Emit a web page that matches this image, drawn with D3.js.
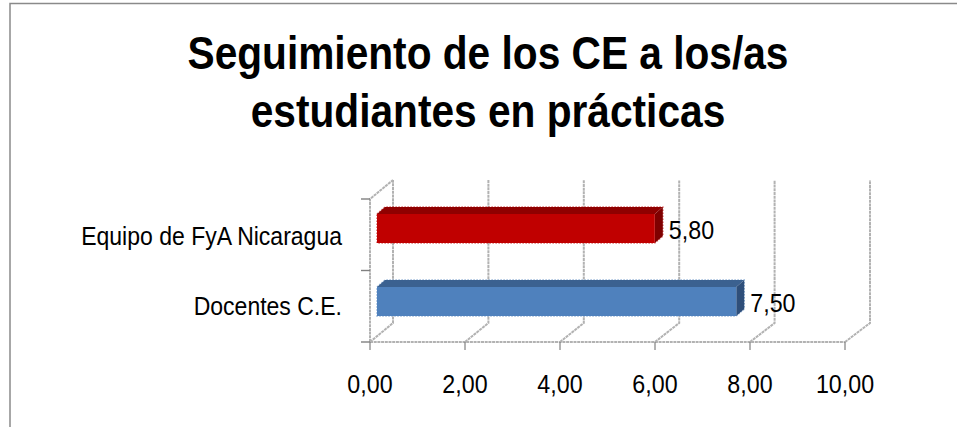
<!DOCTYPE html>
<html>
<head>
<meta charset="utf-8">
<script src="https://cdn.jsdelivr.net/npm/d3@7"></script>
<style>
html, body { margin: 0; padding: 0; background: #fff; overflow: hidden; }
text { font-family: "Liberation Sans", sans-serif; fill: #000; }
</style>
</head>
<body>
<script>
const categories = ["Equipo de FyA Nicaragua", "Docentes C.E."];
const values = [5.8, 7.5];
const barColors = ["#c00000", "#4f81bd"];
const barTopColors = ["#8f0000", "#3b6190"];
const barSideColors = ["#7f0000", "#2f4f7a"];
const xTicks = [0, 2, 4, 6, 8, 10];
const titleLines = ["Seguimiento de los CE a los/as", "estudiantes en prácticas"];

const svg = d3.select("body").append("svg").attr("width", 957).attr("height", 427);

// chart frame, only top and left edge show in the picture
svg.append("path")
    .attr("d", "M10,427V3.5H957")
    .attr("fill", "none")
    .attr("stroke", "#8a8a8a")
    .attr("stroke-width", 1.5);

const x = d3.scaleLinear().domain([0, 10]).range([370, 845]);
const xBack = d3.scaleLinear().domain([0, 10]).range([393, 870]);
const xBar = d3.scaleLinear().domain([0, 10]).range([377, 856]);
const y = d3.scaleBand().domain(categories).range([199, 342]);
const yBar = d3.scalePoint().domain(categories).range([214, 287]);
const floorY = 342;
const backFloorY = 323;
const wallTop = 180;
const grid = "#b2b2b2";
const gridDash = "3 0.7";
const fmt = v => d3.format(".2f")(v).replace(".", ",");

// squeeze text horizontally, the original font is narrower than Liberation Sans
let condense = (sel, factor) => {
    sel.each(function () {
        d3.select(this)
            .attr("textLength", this.getComputedTextLength() * factor)
            .attr("lengthAdjust", "spacingAndGlyphs");
    });
}

// back wall lines and floor diagonals
xTicks.forEach(t => {
    svg.append("path")
        .attr("d", `M${x(t)},${floorY}L${xBack(t)},${backFloorY}V${wallTop}`)
        .attr("fill", "none")
        .attr("stroke", grid)
        .attr("stroke-width", 2)
        .attr("stroke-dasharray", gridDash);
});

// left wall
svg.append("path")
    .attr("d", `M${x(0)},${floorY}V199L${xBack(0)},${wallTop}`)
    .attr("fill", "none")
    .attr("stroke", grid)
    .attr("stroke-width", 2)
    .attr("stroke-dasharray", gridDash);
categories.concat("end").forEach((c, i) => {
    const ty = 199 + i * y.step();
    svg.append("line")
        .attr("x1", x(0) - 9).attr("x2", x(0))
        .attr("y1", ty).attr("y2", ty)
        .attr("stroke", "#808080")
        .attr("stroke-width", 1.4);
});

// floor front edge and ticks
svg.append("line")
    .attr("x1", x(0)).attr("x2", x(10))
    .attr("y1", floorY).attr("y2", floorY)
    .attr("stroke", grid)
    .attr("stroke-width", 2)
    .attr("stroke-dasharray", gridDash);
svg.selectAll(".tick-mark").data(xTicks).enter().append("line")
    .attr("x1", d => x(d)).attr("x2", d => x(d))
    .attr("y1", floorY).attr("y2", floorY + 8)
    .attr("stroke", "#808080")
    .attr("stroke-width", 1.2);

svg.selectAll(".x-label").data(xTicks).enter().append("text")
    .attr("x", d => x(d))
    .attr("y", 393)
    .attr("text-anchor", "middle")
    .attr("font-size", 25)
    .text(d => fmt(d))
    .call(condense, 0.93);

// 3d bars
const barH = 29;
const barDx = 8;
const barDy = 7;
categories.forEach((c, i) => {
    const top = yBar(c);
    const left = xBar(0);
    const right = xBar(values[i]);
    // rough edge around the whole bar
    svg.append("path")
        .attr("d", `M${left},${top}L${left + barDx},${top - barDy}H${right + barDx}V${top + barH - barDy}L${right},${top + barH}H${left}Z`)
        .attr("fill", "none")
        .attr("stroke", barColors[i])
        .attr("stroke-opacity", 0.6)
        .attr("stroke-width", 1.5)
        .attr("stroke-dasharray", "1.5 1.5");
    svg.append("path")
        .attr("d", `M${left},${top}L${left + barDx},${top - barDy}H${right + barDx}L${right},${top}Z`)
        .attr("fill", barTopColors[i]);
    svg.append("path")
        .attr("d", `M${right},${top}L${right + barDx},${top - barDy}V${top + barH - barDy}L${right},${top + barH}Z`)
        .attr("fill", barSideColors[i]);
    svg.append("rect")
        .attr("x", left).attr("y", top)
        .attr("width", right - left).attr("height", barH)
        .attr("fill", barColors[i]);
    svg.append("text")
        .attr("x", right + barDx + 6)
        .attr("y", top + 25)
        .attr("font-size", 25)
        .text(fmt(values[i]))
        .call(condense, 0.93);
    svg.append("text")
        .attr("x", 342)
        .attr("y", top + 31 - i * 3)
        .attr("text-anchor", "end")
        .attr("font-size", 25)
        .text(c)
        .call(condense, 0.92);
});

svg.selectAll(".title").data(titleLines).enter().append("text")
    .attr("x", 488)
    .attr("y", (d, i) => 69 + i * 58)
    .attr("text-anchor", "middle")
    .attr("font-size", 47)
    .attr("font-weight", "bold")
    .text(d => d)
    .call(condense, 0.865);
</script>
</body>
</html>
